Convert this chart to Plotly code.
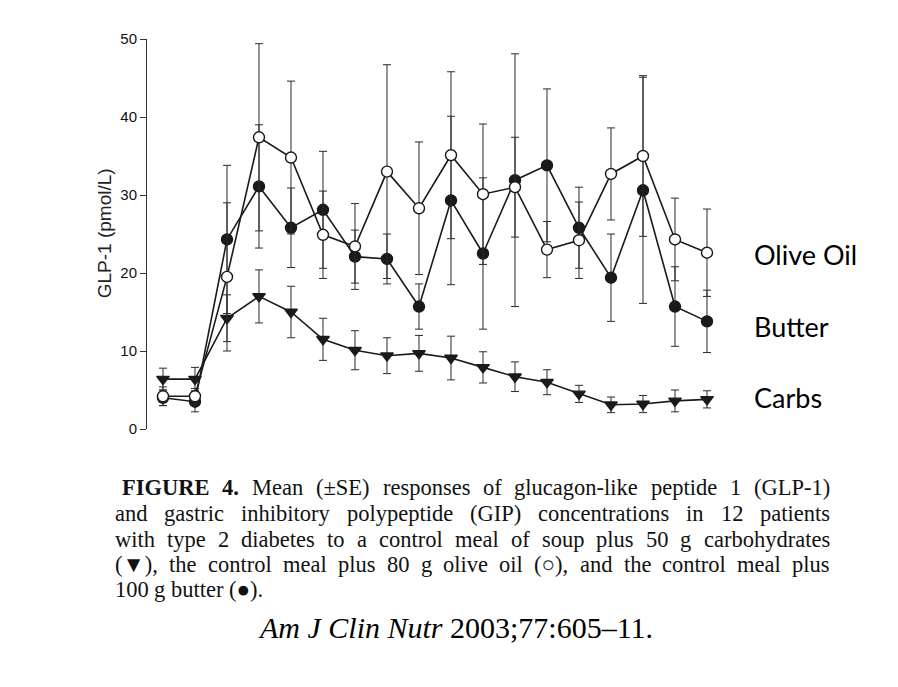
import plotly.graph_objects as go

# ---- data ----
sample = list(range(1, 19))
olive = [4.2, 4.2, 19.5, 37.4, 34.8, 24.9, 23.4, 33.0, 28.3, 35.1, 30.1, 31.0, 23.0, 24.2, 32.7, 35.0, 24.3, 22.6]
olive_se = [1.2, 1.0, 9.5, 12.0, 9.8, 5.6, 5.5, 13.7, 8.5, 10.7, 9.0, 6.4, 3.6, 4.9, 5.9, 10.3, 5.3, 5.6]
butter = [4.0, 3.5, 24.3, 31.1, 25.8, 28.1, 22.1, 21.8, 15.7, 29.3, 22.5, 31.9, 33.8, 25.8, 19.4, 30.6, 15.7, 13.8]
butter_se = [1.0, 1.3, 9.5, 7.9, 5.1, 7.5, 3.4, 3.2, 2.9, 10.8, 9.7, 16.2, 9.8, 5.2, 5.6, 14.5, 5.1, 4.0]
carbs = [6.4, 6.4, 14.2, 17.0, 15.0, 11.5, 10.1, 9.4, 9.7, 9.1, 7.9, 6.7, 6.0, 4.5, 3.1, 3.2, 3.6, 3.8]
carbs_se = [1.4, 1.5, 3.0, 3.4, 3.3, 2.7, 2.5, 2.3, 2.3, 2.8, 2.0, 1.9, 1.6, 1.1, 1.0, 1.1, 1.4, 1.1]
y_ticks = [0, 10, 20, 30, 40, 50]
series_labels = ["Olive Oil", "Butter", "Carbs"]
label_values = [22.4, 13.2, 4.1]

caption_lines = [
    "FIGURE 4. Mean (±SE) responses of glucagon-like peptide 1 (GLP-1)",
    "and gastric inhibitory polypeptide (GIP) concentrations in 12 patients",
    "with type 2 diabetes to a control meal of soup plus 50 g carbohydrates",
    "(▼), the control meal plus 80 g olive oil (○), and the control meal plus",
    "100 g butter (●).",
]
bold_words = {"FIGURE", "4."}
citation = "<i>Am J Clin Nutr</i> 2003;77:605–11."

# ---- layout geometry (pixels) ----
W, H = 898, 687
L, R = 147, 723
T, B = 38.5, 429

def px_x(x):
    return (x - L) / (R - L)

def px_y(y):
    return (B - y) / (B - T)

# approximate Times (Liberation Serif) advance widths, in em
_TW = {
    " ": .25, "a": .444, "b": .5, "c": .444, "d": .5, "e": .444, "f": .333, "g": .5, "h": .5,
    "i": .278, "j": .278, "k": .5, "l": .278, "m": .778, "n": .5, "o": .5, "p": .5, "q": .5,
    "r": .333, "s": .389, "t": .278, "u": .5, "v": .5, "w": .722, "x": .5, "y": .5, "z": .444,
    "A": .722, "B": .667, "C": .667, "D": .722, "E": .611, "F": .556, "G": .722, "H": .722,
    "I": .333, "J": .389, "K": .722, "L": .611, "M": .889, "N": .722, "O": .722, "P": .556,
    "Q": .722, "R": .667, "S": .556, "T": .611, "U": .722, "V": .722, "W": .944, "X": .722,
    "Y": .722, "Z": .611, "(": .333, ")": .333, ".": .25, ",": .25, "-": .333, "±": .564,
    ":": .278, ";": .278, "–": .5, "▼": .99, "○": .604, "●": .604,
}
_TWB = {"F": .611, "I": .389, "G": .778, "U": .722, "R": .722, "E": .667, "4": .5, ".": .25}

def word_width(w, size, bold=False):
    tot = 0.0
    for ch in w:
        if ch.isdigit():
            tot += .5
        elif bold and ch in _TWB:
            tot += _TWB[ch]
        else:
            tot += _TW.get(ch, .5)
    return tot * size

LINE = "#1a1a1a"
fig = go.Figure()

def add_series(yv, se, symbol, fill, name):
    fig.add_trace(go.Scatter(
        x=sample, y=yv, name=name, mode="lines+markers",
        line=dict(color=LINE, width=1.6),
        marker=dict(symbol=symbol, size=11, color=fill, line=dict(color=LINE, width=1.4)),
        error_y=dict(type="data", array=se, visible=True, color="#2a2a2a", thickness=1, width=4),
        showlegend=False,
    ))

add_series(carbs, carbs_se, "triangle-down", LINE, "Carbs")
add_series(butter, butter_se, "circle", LINE, "Butter")
add_series(olive, olive_se, "circle", "white", "Olive Oil")

annotations = []
# y-axis title
annotations.append(dict(
    text="GLP-1 (pmol/L)", x=px_x(104), y=px_y(233), xref="paper", yref="paper",
    textangle=-90, showarrow=False, xanchor="center", yanchor="middle",
    font=dict(family="Liberation Sans, Arial", size=19, color="#222222"),
))
# right-side labels
for lab, v in zip(series_labels, label_values):
    annotations.append(dict(
        text=lab, x=px_x(752), y=v, xref="paper", yref="y",
        showarrow=False, xanchor="left", yanchor="middle",
        font=dict(family="Lato", size=27, color="#000000"),
    ))

# caption: justified, laid out word by word
CAP_SIZE = 22.5
cap_y = [488, 514, 540, 565, 590]
left_edge = 113
right_edge = 828
for i, (line, yy) in enumerate(zip(caption_lines, cap_y)):
    words = line.split(" ")
    x0 = left_edge + (7 if i == 0 else 0)
    widths = [word_width(w, CAP_SIZE, w in bold_words) for w in words]
    if i < len(caption_lines) - 1 and len(words) > 1:
        gap = (right_edge - x0 - sum(widths)) / (len(words) - 1)
    else:
        gap = 0.25 * CAP_SIZE
    x = x0
    for w, wd in zip(words, widths):
        txt = "<b>" + w + "</b>" if w in bold_words else w
        annotations.append(dict(
            text=txt, x=px_x(x), y=px_y(yy), xref="paper", yref="paper",
            showarrow=False, xanchor="left", yanchor="middle",
            font=dict(family="Liberation Serif, Times New Roman", size=CAP_SIZE, color="#111111"),
        ))
        x += wd + gap

annotations.append(dict(
    text=citation, x=px_x(455), y=px_y(628), xref="paper", yref="paper",
    showarrow=False, xanchor="center", yanchor="middle",
    font=dict(family="Liberation Serif, Times New Roman", size=30, color="#000000"),
))

fig.update_layout(
    width=W, height=H,
    margin=dict(l=L, r=W - R, t=T, b=H - B, pad=0),
    paper_bgcolor="white", plot_bgcolor="white",
    xaxis=dict(range=[0.5, 18.5], visible=False, showgrid=False, zeroline=False),
    yaxis=dict(
        range=[0, 50], tickvals=y_ticks, showgrid=False, zeroline=False,
        showline=True, linecolor="#333333", linewidth=1,
        ticks="outside", ticklen=6, tickcolor="#333333", tickwidth=1,
        tickfont=dict(family="Liberation Sans, Arial", size=15, color="#111111"),
    ),
    annotations=annotations,
)

fig.write_html("out.html")
